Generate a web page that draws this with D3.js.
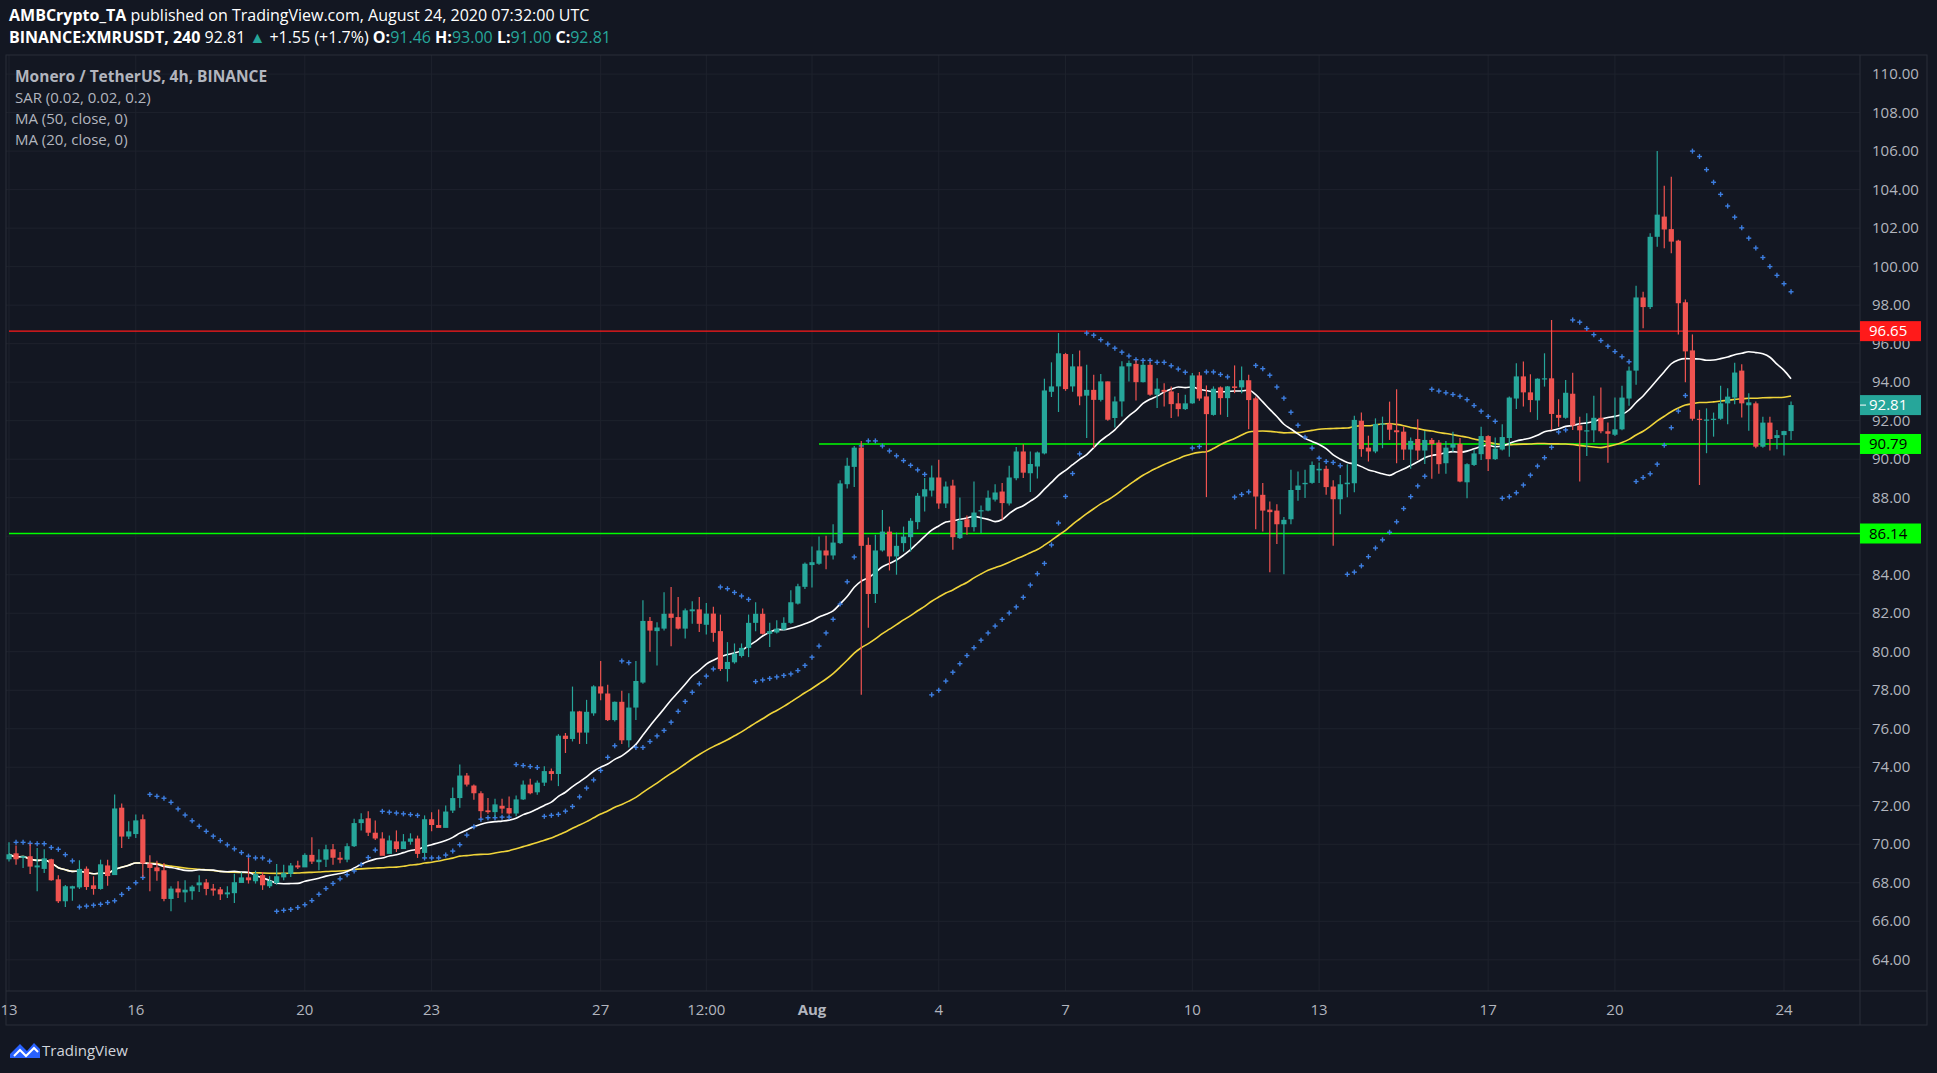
<!DOCTYPE html>
<html>
<head>
<meta charset="utf-8">
<script src="https://cdn.jsdelivr.net/npm/d3@7"></script>
<style>
  body { margin: 0; background: #131722; }
  text { font-family: "Open Sans", "Noto Sans", sans-serif; }
</style>
</head>
<body>
<svg id="chart" width="1937" height="1073"></svg>
<script>
// 4h candles from Jul 13 2020 00:00 UTC, one row per candle: open, high, low, close
const opens = [69.22,69.53,69.30,69.38,68.80,68.72,69.22,68.18,67.04,67.70,67.76,68.73,67.87,67.68,68.90,68.40,71.90,70.40,70.53,71.30,
69.00,68.80,68.65,67.16,67.70,67.50,67.56,67.87,68.02,67.70,67.66,67.40,67.46,67.99,68.28,68.08,68.40,67.82,67.99,68.28,
68.46,68.90,68.80,69.45,69.07,69.20,69.74,69.30,69.20,69.90,71.10,71.35,70.60,70.30,69.50,70.15,69.75,70.13,70.30,69.55,
71.30,71.00,70.85,71.75,72.40,73.57,73.05,72.65,71.76,71.67,72.00,71.88,71.60,72.33,73.10,72.70,73.20,73.80,73.65,75.64,
75.47,76.90,75.80,76.80,78.20,77.83,76.45,77.40,75.40,77.10,78.40,81.60,81.07,81.20,81.98,81.80,81.20,82.10,82.20,81.40,
81.98,81.07,79.10,79.45,79.78,80.20,81.50,81.97,80.93,81.00,81.15,81.50,82.50,83.37,84.50,84.57,85.26,85.00,85.64,88.70,
89.60,90.60,85.55,83.00,85.26,86.24,84.95,85.64,85.95,86.73,88.06,88.37,89.05,87.70,88.63,85.90,86.88,86.47,87.30,87.33,
87.90,88.32,87.70,89.01,90.40,89.27,89.62,90.30,93.50,93.78,95.46,93.78,94.82,93.30,93.60,93.08,94.04,92.14,93.00,94.82,
94.95,94.00,94.90,93.35,93.60,93.52,92.90,92.60,92.90,94.35,93.26,92.30,93.73,93.17,93.78,93.73,94.10,93.16,88.15,87.38,
87.33,86.62,86.88,88.40,88.70,88.77,89.42,89.50,88.58,87.92,88.70,88.75,92.00,90.60,90.40,91.80,91.85,91.50,91.43,90.50,
91.05,90.45,91.00,90.86,89.79,90.60,90.80,88.80,89.70,90.26,91.20,90.00,90.50,91.10,93.15,94.30,93.47,93.05,94.15,94.20,
92.30,92.15,93.40,91.75,91.45,91.50,92.15,91.45,91.27,91.55,93.15,94.60,98.40,97.90,101.55,102.60,101.95,101.35,98.15,95.65,
92.10,92.04,92.06,92.10,92.90,93.20,94.60,92.80,92.90,90.65,91.90,91.10,91.25,91.46];
const highs = [70.10,69.94,69.40,70.03,69.81,69.74,69.25,68.39,67.89,67.85,69.17,68.85,68.34,69.20,69.20,72.59,72.12,71.19,71.54,71.54,
69.43,69.15,69.03,67.82,68.08,68.13,67.87,68.39,68.20,67.94,67.78,67.82,68.47,68.54,69.29,68.63,68.56,68.34,68.98,68.94,
69.03,69.15,69.53,70.36,69.74,69.98,70.01,69.60,70.05,71.33,71.61,71.71,71.24,70.62,70.45,70.72,70.53,70.57,70.45,71.50,
71.66,71.80,72.02,72.95,74.14,73.70,73.10,72.76,72.40,72.36,72.36,72.48,72.53,73.31,73.40,73.31,74.05,73.93,75.72,75.78,
78.19,76.93,77.50,78.26,79.52,78.28,77.42,77.97,77.84,79.52,82.67,81.81,81.53,83.09,83.36,82.84,82.24,82.62,82.84,82.53,
82.33,81.93,80.50,80.43,80.43,81.93,82.57,82.24,81.50,81.64,81.79,83.19,83.53,84.64,85.47,85.98,86.03,86.62,88.91,90.07,
90.69,90.95,85.93,86.07,87.36,86.50,86.19,86.50,86.94,88.24,89.02,89.67,89.97,88.84,88.93,88.01,87.07,88.84,87.59,88.37,
88.70,88.76,89.66,90.63,90.78,90.40,90.40,94.18,95.03,96.55,95.52,95.46,95.65,94.91,94.39,94.42,94.04,93.26,95.08,95.13,
95.13,95.03,95.03,94.21,93.95,93.78,93.44,93.35,94.47,94.53,93.83,93.78,93.78,93.80,94.87,94.82,94.39,93.26,88.76,87.80,
87.66,87.00,89.45,89.36,89.45,89.88,89.83,89.66,88.90,89.18,89.74,92.26,92.42,91.22,92.12,92.21,92.99,93.63,91.69,91.12,
92.07,91.47,91.10,91.00,90.95,91.43,91.10,89.79,90.48,91.69,91.24,91.12,91.81,93.25,94.98,95.07,94.41,94.20,95.50,97.23,
93.11,94.11,94.49,92.21,92.38,93.30,93.72,91.90,93.21,93.82,94.81,99.01,98.70,101.73,106.00,104.20,104.67,101.40,98.30,96.48,
92.56,92.64,92.42,93.82,93.68,95.01,94.93,93.42,93.00,92.21,92.21,91.52,91.48,93.00];
const lows = [69.11,68.94,68.77,68.46,67.56,68.51,68.10,66.95,66.74,67.07,67.68,67.63,67.38,67.64,67.85,68.40,69.81,70.27,70.33,68.30,
67.56,68.11,67.04,66.52,67.21,66.99,67.12,67.52,67.35,67.33,67.11,67.21,66.95,67.99,67.96,67.96,67.63,67.73,67.90,68.13,
68.30,68.72,68.87,68.98,68.65,68.82,68.94,69.01,69.06,69.86,70.71,70.43,70.22,69.53,69.56,69.60,69.88,69.98,69.29,69.29,
70.67,70.93,70.88,71.62,71.90,73.00,72.31,71.38,71.59,71.41,71.60,71.55,71.45,72.30,72.60,72.57,73.03,73.31,73.02,74.74,
75.34,75.21,75.21,76.67,77.48,76.40,76.38,75.21,75.03,76.45,78.34,80.00,79.28,81.10,80.29,81.15,80.69,81.45,81.03,80.90,
80.52,79.00,78.45,79.38,79.70,79.72,81.07,80.90,80.24,80.95,81.10,81.45,82.45,83.26,83.34,84.52,84.29,84.79,85.60,88.48,
88.55,77.76,81.24,82.53,85.20,84.22,84.00,85.20,85.20,86.36,87.28,88.06,87.42,87.46,85.29,85.85,86.07,86.24,86.16,87.30,
87.80,86.85,87.60,88.90,89.02,88.29,89.00,90.25,93.23,92.45,93.55,93.50,92.80,91.10,90.58,92.99,92.00,91.65,92.22,94.04,
93.05,93.98,93.30,92.66,92.74,92.14,92.22,92.55,92.88,93.04,88.03,92.26,92.31,92.19,93.43,93.43,91.56,86.36,86.24,84.13,
85.60,84.02,86.62,87.84,87.98,88.72,88.76,88.15,85.50,87.14,88.02,88.28,90.13,89.88,90.31,90.57,91.00,89.79,89.96,89.50,
89.96,89.75,88.98,89.24,89.24,90.39,88.80,87.97,89.65,89.96,89.39,89.96,90.45,90.13,92.61,92.73,92.44,92.04,93.77,91.52,
91.69,92.10,91.52,88.84,90.17,90.88,91.35,89.82,91.20,91.50,92.78,93.86,96.80,97.80,101.03,100.95,100.69,96.48,93.99,92.00,
88.66,90.31,91.17,92.05,91.81,92.85,92.16,91.48,90.57,90.60,90.45,90.52,90.19,91.00];
const closes = [69.48,69.22,69.38,68.84,68.90,69.27,68.13,67.04,67.82,67.82,68.72,67.78,67.68,68.96,68.35,71.86,70.40,70.67,71.24,69.00,
68.77,68.60,67.16,67.70,67.50,67.64,67.80,68.02,67.68,67.60,67.40,67.50,68.03,68.28,68.13,68.45,67.87,68.10,68.34,68.50,
68.90,68.80,69.45,69.10,69.20,69.74,69.30,69.20,69.90,71.10,71.30,70.60,70.30,69.40,70.20,69.75,70.15,70.30,69.50,71.30,
71.00,70.85,71.70,72.40,73.57,73.10,72.65,71.72,71.67,72.07,71.85,71.60,72.33,73.10,72.65,73.20,73.80,73.65,75.64,75.47,
76.90,75.80,76.88,78.20,77.83,76.45,77.40,75.40,77.10,78.48,81.60,81.10,81.26,81.97,81.76,81.20,82.15,82.20,81.45,81.98,
80.98,79.10,79.47,79.90,80.20,81.50,81.97,80.93,81.07,81.20,81.50,82.57,83.40,84.57,84.65,85.26,85.00,85.67,88.74,89.66,
90.60,85.50,83.00,85.26,86.24,84.95,85.50,85.98,86.80,88.10,88.44,89.05,87.70,88.58,85.95,86.80,86.47,87.23,87.35,88.00,
88.27,87.72,89.05,90.40,89.30,89.75,90.35,93.57,93.78,95.50,93.64,94.82,93.26,93.60,93.08,94.04,92.05,93.00,94.82,95.00,
94.00,94.90,93.35,93.66,93.50,92.86,92.60,92.90,94.35,93.15,92.34,93.66,93.17,93.78,93.70,94.10,93.07,88.06,87.33,87.25,
86.62,86.85,88.40,88.63,88.77,89.70,89.50,88.55,87.92,88.70,88.78,92.04,90.52,90.40,91.83,91.85,91.53,91.40,90.50,90.95,
90.45,91.00,90.79,89.74,90.60,90.80,88.84,89.74,90.30,91.20,90.00,90.55,91.15,93.20,94.30,93.47,93.07,94.18,94.20,92.35,
92.15,93.45,91.75,91.50,91.50,92.15,91.45,91.32,91.55,93.20,94.60,98.40,97.90,101.55,102.70,101.93,101.30,98.10,95.60,92.10,
92.04,92.06,92.10,92.90,93.25,94.50,92.90,92.95,90.65,91.90,91.05,91.25,91.46,92.81];

const priceTicks = [64,66,68,70,72,74,76,78,80,82,84,86,88,90,92,94,96,98,100,102,104,106,108,110];
const timeTicks = [
  {d: "2020-07-13T00:00", t: "13"}, {d: "2020-07-16T00:00", t: "16"}, {d: "2020-07-20T00:00", t: "20"},
  {d: "2020-07-23T00:00", t: "23"}, {d: "2020-07-27T00:00", t: "27"}, {d: "2020-07-29T12:00", t: "12:00"},
  {d: "2020-08-01T00:00", t: "Aug"}, {d: "2020-08-04T00:00", t: "4"}, {d: "2020-08-07T00:00", t: "7"},
  {d: "2020-08-10T00:00", t: "10"}, {d: "2020-08-13T00:00", t: "13"}, {d: "2020-08-17T00:00", t: "17"},
  {d: "2020-08-20T00:00", t: "20"}, {d: "2020-08-24T00:00", t: "24"}
];
const levels = [
  {v: 96.65, color: "#ff1a1a", from: "2020-07-13T00:00", text: "#fff"},
  {v: 90.79, color: "#00ff00", from: "2020-08-01T04:00", text: "#000"},
  {v: 86.14, color: "#00ff00", from: "2020-07-13T00:00", text: "#000"}
];

const up = "#26a69a", down = "#ef5350", gridC = "#1e222d", textC = "#b2b5be";
const plotL = 6, plotR = 1860, plotT = 55, plotB = 991;
const svg = d3.select("#chart");
const parse = d3.utcParse("%Y-%m-%dT%H:%M");
const t0 = parse("2020-07-13T00:00");
const times = closes.map((c, i) => new Date(t0.getTime() + i * 4 * 3600e3));
const candles = closes.map((c, i) => ({t: times[i], o: opens[i], h: highs[i], l: lows[i], c}));

const x = d3.scaleUtc().domain([t0, parse("2020-08-24T00:00")]).range([9, 1784]);
const y = d3.scaleLinear().domain([64, 110]).range([959.8, 74.1]);

svg.append("rect").attr("width", 1937).attr("height", 1073).attr("fill", "#131722");

//grid
const g = svg.append("g");
g.selectAll(".hg").data(priceTicks).join("line")
  .attr("x1", plotL).attr("x2", plotR).attr("y1", d => y(d)).attr("y2", d => y(d))
  .attr("stroke", gridC).attr("stroke-width", 1);
g.selectAll(".vg").data(timeTicks).join("line")
  .attr("x1", d => x(parse(d.d))).attr("x2", d => x(parse(d.d))).attr("y1", plotT).attr("y2", plotB)
  .attr("stroke", gridC).attr("stroke-width", 1);

//frame
svg.append("rect").attr("x", plotL).attr("y", plotT).attr("width", 1921).attr("height", 970)
  .attr("fill", "none").attr("stroke", "#2a2e39");
svg.append("line").attr("x1", plotR).attr("x2", plotR).attr("y1", plotT).attr("y2", 1025).attr("stroke", "#2a2e39");
svg.append("line").attr("x1", plotL).attr("x2", 1927).attr("y1", plotB).attr("y2", plotB).attr("stroke", "#2a2e39");

//levels
levels.forEach(l => {
  svg.append("line").attr("x1", x(parse(l.from))).attr("x2", plotR)
    .attr("y1", y(l.v)).attr("y2", y(l.v)).attr("stroke", l.color).attr("stroke-width", 1.3);
});

//moving averages
const ma = n => closes.map((c, i) => d3.mean(closes.slice(Math.max(0, i - n + 1), i + 1)));
const ma50 = ma(50), ma20 = ma(20);
const line = d3.line().x((d, i) => x(times[i])).y(d => y(d)).curve(d3.curveMonotoneX);
svg.append("path").attr("d", line(ma50)).attr("fill", "none").attr("stroke", "#f0d43a").attr("stroke-width", 1.6);
svg.append("path").attr("d", line(ma20)).attr("fill", "none").attr("stroke", "#ffffff").attr("stroke-width", 1.6);

//parabolic SAR (0.02, 0.02, 0.2)
const sar = [];
let bull = true, af = 0.02, ep = highs[0], s = lows[0];
for (let i = 0; i < candles.length; i++) {
  if (i > 0) {
    s = s + af * (ep - s);
    if (bull) {
      s = Math.min(s, lows[i - 1], i > 1 ? lows[i - 2] : lows[i - 1]);
      if (lows[i] < s) { bull = false; s = ep; ep = lows[i]; af = 0.02; }
      else if (highs[i] > ep) { ep = highs[i]; af = Math.min(0.2, af + 0.02); }
    } else {
      s = Math.max(s, highs[i - 1], i > 1 ? highs[i - 2] : highs[i - 1]);
      if (highs[i] > s) { bull = true; s = ep; ep = highs[i]; af = 0.02; }
      else if (lows[i] < ep) { ep = lows[i]; af = Math.min(0.2, af + 0.02); }
    }
  }
  sar.push(s);
}
const sarG = svg.append("g").attr("stroke", "#3d7ee0").attr("stroke-width", 1.4);
sar.forEach((v, i) => {
  if (i === 0) return;
  const cx = x(times[i]), cy = y(v);
  sarG.append("line").attr("x1", cx - 2.5).attr("x2", cx + 2.5).attr("y1", cy).attr("y2", cy);
  sarG.append("line").attr("x1", cx).attr("x2", cx).attr("y1", cy - 2.5).attr("y2", cy + 2.5);
});

//candles
const cg = svg.selectAll(".c").data(candles).join("g");
cg.append("line").attr("x1", d => x(d.t)).attr("x2", d => x(d.t))
  .attr("y1", d => y(d.h)).attr("y2", d => y(d.l))
  .attr("stroke", d => d.c >= d.o ? up : down).attr("stroke-width", 1.2);
cg.append("rect").attr("x", d => x(d.t) - 2.6).attr("width", 5.2)
  .attr("y", d => y(Math.max(d.o, d.c))).attr("height", d => Math.max(1.2, Math.abs(y(d.o) - y(d.c))))
  .attr("fill", d => d.c >= d.o ? up : down);

//price axis
svg.selectAll(".pt").data(priceTicks).join("text")
  .attr("x", 1872).attr("y", d => y(d) + 5).attr("fill", textC).attr("font-size", 15)
  .text(d => d.toFixed(2));
const tagData = [levels[0], {v: closes[closes.length - 1], color: up, text: "#fff"}, levels[1], levels[2]];
tagData.forEach(l => {
  svg.append("rect").attr("x", plotR).attr("y", y(l.v) - 10).attr("width", 61).attr("height", 20).attr("fill", l.color);
  svg.append("text").attr("x", 1869).attr("y", y(l.v) + 5).attr("fill", l.text).attr("font-size", 15)
    .text(l.v.toFixed(2));
});
svg.append("line").attr("x1", plotR).attr("x2", plotR + 6).attr("y1", y(closes[closes.length - 1]))
  .attr("y2", y(closes[closes.length - 1])).attr("stroke", "#fff");

//time axis
svg.selectAll(".tt").data(timeTicks).join("text")
  .attr("x", d => x(parse(d.d))).attr("y", 1015).attr("text-anchor", "middle")
  .attr("fill", textC).attr("font-size", 15)
  .attr("font-weight", d => d.t === "Aug" ? "bold" : "normal").text(d => d.t);

//header
const h1 = svg.append("text").attr("x", 9).attr("y", 21).attr("fill", "#fff").attr("font-size", 16);
h1.append("tspan").attr("font-weight", "bold").text("AMBCrypto_TA");
h1.append("tspan").text(" published on TradingView.com, August 24, 2020 07:32:00 UTC");
const h2 = svg.append("text").attr("x", 9).attr("y", 43).attr("fill", "#fff").attr("font-size", 16);
h2.append("tspan").attr("font-weight", "bold").text("BINANCE:XMRUSDT, 240 ");
h2.append("tspan").text("92.81 ");
h2.append("tspan").attr("fill", up).text("▲");
h2.append("tspan").text(" +1.55 (+1.7%) ");
[["O:", "91.46"], ["H:", "93.00"], ["L:", "91.00"], ["C:", "92.81"]].forEach(([k, v], i) => {
  h2.append("tspan").attr("font-weight", "bold").text((i ? " " : "") + k);
  h2.append("tspan").attr("fill", up).text(v);
});

//legend
svg.append("text").attr("x", 15).attr("y", 82).attr("fill", textC).attr("font-size", 15.5)
  .attr("font-weight", "bold").text("Monero / TetherUS, 4h, BINANCE");
["SAR (0.02, 0.02, 0.2)", "MA (50, close, 0)", "MA (20, close, 0)"].forEach((t, i) => {
  svg.append("text").attr("x", 15).attr("y", 103 + i * 21).attr("fill", textC).attr("font-size", 15).text(t);
});

//logo
const logo = svg.append("g").attr("transform", "translate(10,1040)");
logo.append("path").attr("d", "M0 14 L10 4 L17 11 L24 3 L30 9 L30 18 L0 18 Z").attr("fill", "#2962ff");
logo.append("path").attr("d", "M4 16 L10 10 L16 16 L24 8 L28 12").attr("fill", "none").attr("stroke", "#fff").attr("stroke-width", 2);
svg.append("text").attr("x", 42).attr("y", 1056).attr("fill", "#d1d4dc").attr("font-size", 15).text("TradingView");
</script>
</body>
</html>
